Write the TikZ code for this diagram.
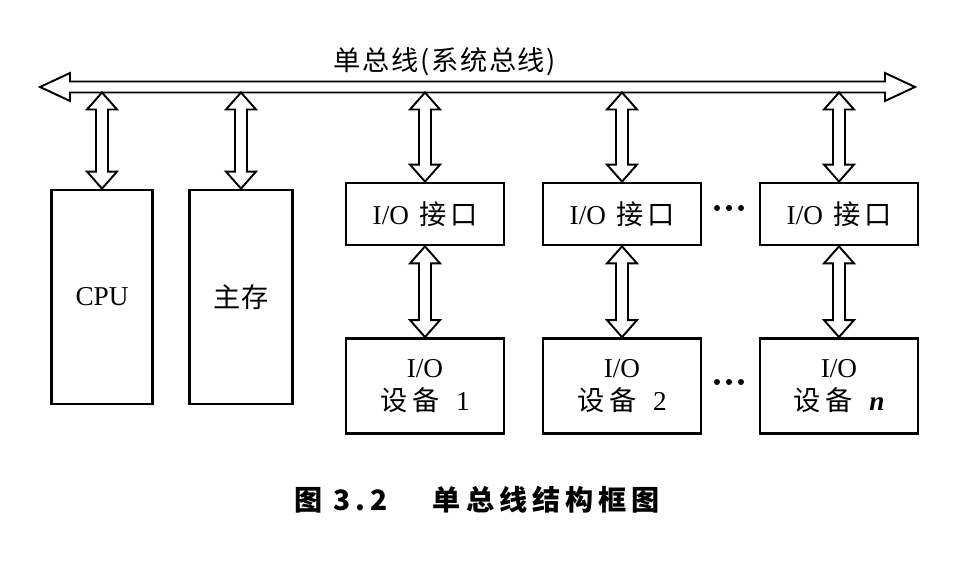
\documentclass[tikz,border=0pt]{standalone}
\usepackage{fontspec}
\setmainfont{Liberation Serif}
\newfontfamily\cjk{Noto Sans CJK SC}
\newfontfamily\cjktitle[LetterSpace=6]{Noto Sans CJK SC}
\newfontfamily\cjkwide[LetterSpace=18]{Noto Sans CJK SC}
\usepackage{tikz}
\usetikzlibrary{calc}

\tikzset{
  box/.style={draw,line width=1.6pt,align=center,inner sep=0pt},
  hollow/.style={draw,line width=1.1pt,line join=miter,fill=white},
}
% hollow double arrow from an upper point #1 down to a lower point #2
\newcommand{\vlink}[2]{%
  \draw[hollow] (#1) -- ++(-15,-17) -- ++(9,0) -- ($(#2)+(-6,17)$) -- ++(-9,0) -- (#2)
    -- ++(15,17) -- ++(-9,0) -- ($(#1)+(6,-17)$) -- ++(9,0) -- cycle;}

\begin{document}
\begin{tikzpicture}[x=0.02cm,y=0.02cm]
            \fontsize{15.5}{19}\selectfont
            \useasboundingbox (0,0) rectangle (960,564);
            \coordinate (busl) at (40,477);
            \coordinate (busr) at (915,477);
            \coordinate (busb) at (0,471.5);

            \draw[hollow] (busl) -- ++(30,14) -- ++(0,-8.5) -- ($(busr)+(-30,5.5)$) -- ++(0,8.5) -- (busr)
              -- ++(-30,-14) -- ++(0,8.5) -- ($(busl)+(30,-5.5)$) -- ++(0,-8.5) -- cycle;
            \node (title) at (445,502) {\cjktitle 单总线(系统总线)};

            \node[box,minimum width=2.02cm,minimum height=4.28cm] (cpu) at (102,267) {CPU};
            \node[box,minimum width=2.06cm,minimum height=4.28cm] (mem) at (241,267) {\cjk 主存};
            \coordinate (cputop) at (cpu.north |- busb);
            \coordinate (memtop) at (mem.north |- busb);
            \vlink{cputop}{cpu.north}
            \vlink{memtop}{mem.north}

            \foreach \i/\x/\lab in {1/425/1, 2/622/2, n/839/\textbf{\textit{n}}} {
              \node[box,minimum width=3.16cm,minimum height=1.24cm] (if\i) at (\x,350) {I/O {\cjk\kern2pt 接\kern2pt 口}};
              \node[box,minimum width=3.16cm,minimum height=1.9cm] (dev\i) at (\x,178) {I/O\\{\cjk 设\kern3pt 备}\hspace{0.6em}\lab};
              \coordinate (top\i) at (if\i.north |- busb);
              \vlink{top\i}{if\i.north}
              \vlink{if\i.south}{dev\i.north}
            }

            \foreach \d in {-12,0,12} {
              \fill (729+\d,356) circle (3);
              \fill (729+\d,182) circle (3);
            }

            \node (caption) at (477,64) {\fontsize{16}{18}\selectfont\cjkwide\bfseries 图 3.2\hspace{1.6em}单总线结构框图};
\end{tikzpicture}
\end{document}
